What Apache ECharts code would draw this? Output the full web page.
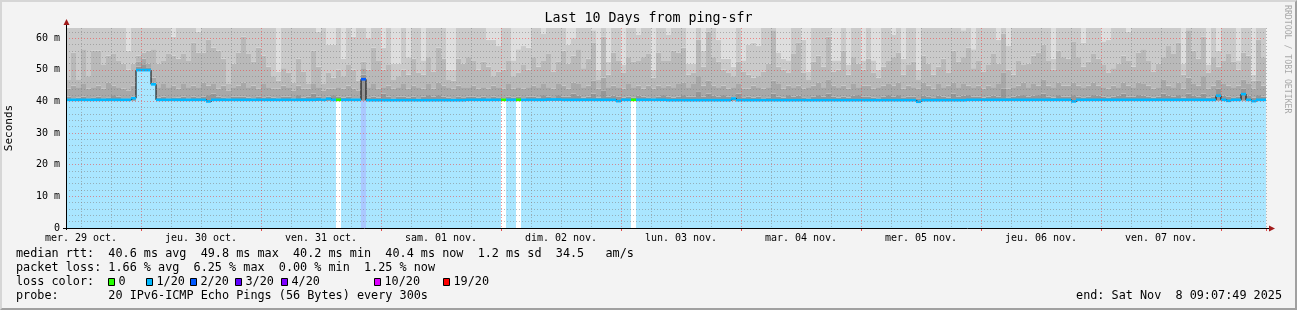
<!DOCTYPE html>
<html><head><meta charset="utf-8">
<script src="https://cdn.jsdelivr.net/npm/echarts@6/dist/echarts.min.js"></script>
<style>
html,body{margin:0;padding:0;background:#f3f3f3;}
#c{width:1297px;height:310px;position:absolute;left:0;top:0;}
#frame{position:absolute;left:0;top:0;width:1297px;height:310px;box-sizing:border-box;border-top:2px solid #d6d6d6;border-left:2px solid #d6d6d6;border-right:2px solid #a0a0a0;border-bottom:2px solid #a0a0a0;pointer-events:none;}
</style>
</head><body><div id="c"></div><div id="frame"></div>
<script>
// ---------------- DATA (one column = 30 min) ----------------
const dayLabels = ['mer. 29 oct.','jeu. 30 oct.','ven. 31 oct.','sam. 01 nov.','dim. 02 nov.','lun. 03 nov.','mar. 04 nov.','mer. 05 nov.','jeu. 06 nov.','ven. 07 nov.'];
const yTickLabels = [0,10,20,30,40,50,60];
const lossKeys   = ['0','1/20','2/20','3/20','4/20','10/20','19/20'];
const lossColors = ['#26ff00','#00b8ff','#0059ff','#5e00ff','#7e00ff','#dd00ff','#ff0000'];
const lossFills  = ['#ffffff','#aae6ff','#abc8ff','#c9aaff','#d4aaff','#f2aaff','#ffaaaa'];

// median rtt (ms)
const median = [
40.5,40.5,40.5,40.5,40.5,40.5,40.5,40.5,40.5,40.5,40.5,40.5,40.5,41.0,49.9,49.9,49.9,45.4,40.5,40.5,
40.5,40.5,40.5,40.5,40.5,40.5,40.5,40.5,40.0,40.5,40.5,40.5,40.5,40.5,40.5,40.5,40.5,40.5,40.5,40.5,
40.5,40.5,40.5,40.5,40.5,40.5,40.5,40.5,40.5,40.5,40.6,40.5,40.8,40.5,40.5,40.5,40.5,40.5,40.5,47.0,
40.4,40.4,40.4,40.4,40.4,40.4,40.4,40.4,40.4,40.4,40.4,40.4,40.4,40.4,40.4,40.4,40.4,40.4,40.4,40.4,
40.5,40.5,40.5,40.5,40.5,40.5,40.5,40.5,40.5,40.5,40.5,40.5,40.5,40.5,40.5,40.5,40.6,40.6,40.6,40.5,
40.5,40.5,40.5,40.5,40.5,40.5,40.5,40.5,40.5,40.5,40.1,40.5,40.5,40.5,40.5,40.5,40.5,40.5,40.5,40.5,
40.4,40.4,40.4,40.4,40.4,40.4,40.4,40.4,40.4,40.4,40.4,40.4,40.4,40.9,40.4,40.4,40.4,40.4,40.4,40.4,
40.4,40.4,40.4,40.4,40.4,40.4,40.4,40.4,40.4,40.4,40.4,40.4,40.4,40.4,40.4,40.4,40.4,40.4,40.4,40.4,
40.4,40.4,40.4,40.4,40.4,40.4,40.4,40.4,40.4,40.4,39.9,40.4,40.4,40.4,40.4,40.4,40.4,40.4,40.4,40.4,
40.5,40.5,40.5,40.5,40.5,40.5,40.5,40.5,40.5,40.5,40.5,40.5,40.5,40.5,40.5,40.5,40.5,40.5,40.5,40.5,
40.5,40.0,40.5,40.5,40.5,40.5,40.5,40.5,40.5,40.5,40.5,40.5,40.5,40.5,40.5,40.5,40.5,40.5,40.5,40.5,
40.5,40.5,40.5,40.5,40.5,40.5,40.5,40.5,40.5,40.5,41.8,40.5,40.2,40.5,40.5,42.3,40.5,40.1,40.5,40.5];

// loss level index (into lossKeys) per column
const loss = [
1,1,1,1,1,1,1,1,1,1,1,1,1,1,1,1,1,1,1,1,
1,1,1,1,1,1,1,1,1,1,1,1,1,1,1,1,1,1,1,1,
1,1,1,1,1,1,1,1,1,1,1,1,1,1,0,1,1,1,1,2,
1,1,1,1,1,1,1,1,1,1,1,1,1,1,1,1,1,1,1,1,
1,1,1,1,1,1,1,0,1,1,0,1,1,1,1,1,1,1,1,1,
1,1,1,1,1,1,1,1,1,1,1,1,1,0,1,1,1,1,1,1,
1,1,1,1,1,1,1,1,1,1,1,1,1,1,1,1,1,1,1,1,
1,1,1,1,1,1,1,1,1,1,1,1,1,1,1,1,1,1,1,1,
1,1,1,1,1,1,1,1,1,1,1,1,1,1,1,1,1,1,1,1,
1,1,1,1,1,1,1,1,1,1,1,1,1,1,1,1,1,1,1,1,
1,1,1,1,1,1,1,1,1,1,1,1,1,1,1,1,1,1,1,1,
1,1,1,1,1,1,1,1,1,1,1,1,1,1,1,1,1,1,1,1];

// smoke: lowest ping, then tops of the darker-to-lighter smoke bands (ms)
const minPing = [
40.2,40.2,40.2,40.2,40.2,40.2,40.2,40.2,40.2,40.2,40.2,40.2,40.2,40.2,49.7,49.7,49.7,45.2,40.2,40.2,
40.2,40.2,40.2,40.2,40.2,40.2,40.2,40.2,40.2,40.2,40.2,40.2,40.2,40.2,40.2,40.2,40.2,40.2,40.2,40.2,
40.2,40.2,40.2,40.2,40.2,40.2,40.2,40.2,40.2,40.2,40.2,40.2,40.2,40.2,40.2,40.2,40.2,40.2,40.2,40.2,
40.2,40.2,40.2,40.2,40.2,40.2,40.2,40.2,40.2,40.2,40.2,40.2,40.2,40.2,40.2,40.2,40.2,40.2,40.2,40.2,
40.2,40.2,40.2,40.2,40.2,40.2,40.2,40.2,40.2,40.2,40.2,40.2,40.2,40.2,40.2,40.2,40.2,40.2,40.2,40.2,
40.2,40.2,40.2,40.2,40.2,40.2,40.2,40.2,40.2,40.2,40.2,40.2,40.2,40.2,40.2,40.2,40.2,40.2,40.2,40.2,
40.2,40.2,40.2,40.2,40.2,40.2,40.2,40.2,40.2,40.2,40.2,40.2,40.2,40.2,40.2,40.2,40.2,40.2,40.2,40.2,
40.2,40.2,40.2,40.2,40.2,40.2,40.2,40.2,40.2,40.2,40.2,40.2,40.2,40.2,40.2,40.2,40.2,40.2,40.2,40.2,
40.2,40.2,40.2,40.2,40.2,40.2,40.2,40.2,40.2,40.2,40.2,40.2,40.2,40.2,40.2,40.2,40.2,40.2,40.2,40.2,
40.2,40.2,40.2,40.2,40.2,40.2,40.2,40.2,40.2,40.2,40.2,40.2,40.2,40.2,40.2,40.2,40.2,40.2,40.2,40.2,
40.2,40.2,40.2,40.2,40.2,40.2,40.2,40.2,40.2,40.2,40.2,40.2,40.2,40.2,40.2,40.2,40.2,40.2,40.2,40.2,
40.2,40.2,40.2,40.2,40.2,40.2,40.2,40.2,40.2,40.2,40.2,40.2,40.2,40.2,40.2,40.2,40.2,40.2,40.2,40.2];

const smokeDark = [
41.5,41.0,41.2,41.5,41.0,41.3,41.5,41.0,41.3,42.0,41.5,41.0,41.0,41.5,51.0,51.5,50.8,46.0,41.2,41.5,
41.0,41.3,41.2,41.5,41.0,41.5,41.3,41.5,42.0,42.5,41.5,41.3,41.0,41.5,41.5,41.5,41.2,41.0,41.5,41.3,
41.5,41.2,41.0,41.5,41.5,41.0,42.0,41.2,41.5,42.5,41.5,41.0,41.5,42.0,41.5,41.2,41.5,41.0,41.0,48.5,
41.3,41.5,41.2,42.5,41.5,41.0,41.5,41.5,41.2,41.5,41.0,41.5,42.0,41.5,42.0,41.5,41.2,41.0,41.5,41.3,
41.5,41.5,41.2,41.5,41.0,41.5,41.3,41.0,41.5,41.2,41.5,41.0,41.5,41.5,41.2,42.0,41.5,41.0,42.0,41.5,
41.5,42.5,41.8,41.2,41.5,42.5,41.2,43.5,41.5,41.8,41.5,41.2,41.5,41.2,41.8,41.5,41.3,41.0,41.5,42.0,
41.5,41.2,41.5,42.0,41.5,41.5,43.0,41.5,42.5,41.8,41.5,42.0,41.5,41.2,42.5,41.3,41.5,41.2,41.5,41.0,
41.3,42.5,41.5,41.2,42.0,41.5,41.8,41.3,41.0,41.5,42.0,41.5,42.5,41.5,41.2,41.5,41.2,41.8,42.0,41.5,
41.5,41.2,41.0,41.5,42.0,41.5,42.0,41.3,41.5,41.5,41.0,41.8,41.5,41.3,41.8,41.5,41.2,42.5,41.5,41.8,
42.0,41.5,41.5,41.2,41.5,41.8,41.5,44.0,41.3,41.5,41.8,42.0,41.5,41.8,42.0,42.5,41.5,41.2,42.0,41.5,
41.5,42.0,41.5,41.3,41.5,42.0,41.8,41.5,41.2,41.5,41.8,42.5,41.5,41.5,42.0,41.8,41.5,41.2,41.5,42.5,
41.8,41.5,42.0,41.2,42.5,41.8,41.5,42.5,41.2,41.5,44.0,41.8,41.5,41.3,41.5,44.0,41.8,41.2,42.0,41.5];

const smokeMid = [
44.0,45.0,44.5,45.5,44.0,44.5,45.0,44.0,46.0,45.0,44.5,44.0,43.5,45.0,52.5,53.5,52.0,47.5,44.5,45.5,
44.5,45.0,44.0,45.5,44.5,45.0,44.5,46.0,45.0,45.5,44.0,45.0,43.5,44.5,45.0,46.0,44.5,45.0,44.0,45.5,
44.5,44.0,44.0,45.0,44.5,43.5,45.0,44.0,44.0,45.5,44.5,43.5,44.0,44.0,44.5,44.0,45.0,44.0,43.5,50.5,
44.5,45.5,44.0,44.5,45.0,44.0,44.5,45.5,44.0,45.0,44.5,44.0,45.5,44.0,46.0,45.0,44.5,44.0,45.0,44.5,
44.5,45.0,44.0,44.5,44.0,45.0,44.5,44.0,45.5,44.0,44.5,44.0,44.5,45.0,44.5,45.5,44.5,44.0,45.5,45.0,
44.0,46.0,45.5,44.5,45.0,46.5,44.0,47.5,44.5,45.0,44.5,44.0,45.5,44.5,45.0,44.0,45.0,44.0,45.0,44.5,
45.0,44.5,45.5,46.0,44.5,45.5,48.0,45.0,46.5,45.0,44.5,45.0,44.0,44.5,45.5,44.0,44.0,45.0,44.5,44.0,
44.5,46.5,45.5,44.0,45.0,44.5,45.0,44.0,44.5,45.0,46.0,44.5,47.0,45.0,44.5,45.0,44.0,45.5,44.5,45.0,
45.0,44.0,44.5,45.0,45.5,45.0,46.0,44.0,45.0,44.5,44.0,46.0,45.0,44.0,45.5,44.5,45.0,46.0,44.5,45.5,
45.0,44.5,45.0,44.0,45.0,44.5,45.5,49.0,44.0,44.5,45.0,46.0,44.5,45.5,45.0,47.0,45.0,44.5,46.0,45.0,
45.0,46.0,45.0,44.5,45.0,46.0,45.0,44.5,44.0,45.0,44.5,46.0,45.0,44.5,46.0,45.5,45.0,44.0,44.5,47.0,
45.0,44.5,46.0,44.0,47.5,45.5,45.0,48.0,44.0,45.0,47.0,45.5,45.0,44.5,45.0,47.0,45.5,44.0,46.5,45.0];

const smokeLight = [
47.0,55.5,47.0,56.5,48.0,56.0,56.0,51.5,54.5,55.0,53.0,52.0,50.0,52.0,54.5,55.5,56.0,56.5,52.0,53.0,
55.0,54.5,53.5,55.0,53.0,58.5,55.5,55.5,59.5,57.0,56.0,53.5,45.5,52.0,55.5,60.5,55.0,52.5,57.0,54.5,
51.0,48.0,46.5,50.5,49.0,46.0,53.5,49.5,45.5,56.0,51.0,45.5,49.0,47.5,50.0,48.0,51.5,50.0,46.5,52.5,
50.0,57.0,53.0,50.0,51.5,47.0,48.0,50.0,48.5,53.5,49.0,48.5,54.0,49.5,57.0,53.5,47.0,46.5,53.5,52.0,
54.0,53.0,50.0,52.5,51.0,48.0,49.5,50.0,53.0,48.0,49.0,51.5,50.0,54.0,51.0,53.0,55.0,49.5,52.5,56.0,
52.0,54.5,56.5,50.5,53.5,58.5,47.0,60.5,48.5,55.5,53.0,49.0,54.0,52.5,53.0,54.0,55.0,47.5,55.5,53.0,
53.0,56.0,55.5,57.0,48.5,49.0,59.5,51.0,62.0,54.0,52.5,50.0,49.0,48.0,52.5,49.5,48.5,47.5,48.0,49.5,
52.0,62.5,51.0,50.0,49.0,55.0,58.5,49.0,47.0,52.5,54.5,51.0,60.5,49.5,50.0,56.0,48.5,54.0,52.0,50.0,
53.5,49.0,47.5,51.0,53.0,54.0,55.5,48.5,51.5,52.5,47.0,54.5,52.0,48.5,51.0,53.5,49.0,56.0,52.5,54.0,
57.0,50.5,53.0,49.5,51.5,55.0,52.0,61.5,50.0,48.5,53.0,51.5,52.0,54.5,55.5,58.0,53.0,50.0,56.0,54.0,
53.5,59.0,54.0,51.0,52.5,55.0,53.5,51.5,49.0,50.5,52.0,54.5,53.0,51.0,55.5,56.5,53.0,49.5,52.0,54.0,
57.5,55.0,58.5,48.5,62.5,56.0,53.5,60.5,49.0,54.0,51.0,53.0,55.0,52.5,50.0,55.5,54.5,46.5,59.5,54.0];

// top of the grey (#cacaca) band; above it only the palest smoke remains
const smokePale = [
64,64,64,64,64,64,64,64,64,64,64,64,56.0,64,64,64,64,64,64,64,
64,60.5,64,64,64,64,62.0,64,64,64,64,64,64,64,64,64,64,64,64,64,
64,64,49.5,64,64,64,64,64,64,64,62.0,64,58.0,58.0,64,53.5,64,60.5,64,64,
60.0,64,64,57.0,64,52.0,52.0,64,54.0,64,64,53.0,64,64,64,64,50.0,50.0,64,64,
64,64,64,64,59.5,59.5,57.5,64,64,53.0,56.5,57.5,57.0,64,64,61.5,64,64,64,64,
58.0,60.0,64,64,64,62.5,50.0,64,52.5,64,64,51.5,64,64,61.0,64,64,50.0,64,64,
61.0,64,64,64,52.0,52.0,64,56.0,64,64,59.5,53.5,53.5,51.0,64,53.0,58.0,58.5,57.5,64,
64,64,55.5,53.5,53.0,64,64,59.5,49.5,64,64,64,64,53.0,53.0,64,51.5,64,64,53.0,
64,53.0,50.0,64,64,61.0,64,53.5,64,64,50.0,64,64,64,64,64,64,64,64,62.5,
64,56.5,64,64,64,64,59.5,64,57.5,64,64,64,64,64,64,64,64,53.5,64,64,
64,64,64,58.5,64,64,64,59.0,59.5,64,64,64,62.0,64,64,64,64,64,64,64,
64,64,64,52.0,64,64,64,64,51.5,64,56.0,64,64,64,53.0,64,64,48.5,64,64];

const smokeMax = 64; // highest pings run off the top of the graph

const statLines = [
  'median rtt:  40.6 ms avg  49.8 ms max  40.2 ms min  40.4 ms now  1.2 ms sd  34.5   am/s',
  'packet loss: 1.66 % avg  6.25 % max  0.00 % min  1.25 % now',
  'loss color:',
  'probe:       20 IPv6-ICMP Echo Pings (56 Bytes) every 300s'
];
const endText = 'end: Sat Nov  8 09:07:49 2025';
const titleText = 'Last 10 Days from ping-sfr';

// ---------------- CHART ----------------
const FONT = '"DejaVu Sans Mono", monospace';
const L = 66, T = 28, W = 1200, H = 200;
const cols = median.map((_, i) => i);
const chart = echarts.init(document.getElementById('c'), null, {renderer: 'canvas', width: 1297, height: 310});

function bar(name, stack, data, color, z) {
  return {
    name, type: 'bar', stack, data, z,
    barWidth: '100%', barGap: '-100%', barCategoryGap: '0%',
    itemStyle: color ? {color} : undefined,
    silent: true, animation: false
  };
}

const fillData = median.map((v, i) => ({value: v, itemStyle: {color: lossFills[loss[i]]}}));
const medBase = median.map(v => v - 0.42);
const medData = median.map((v, i) => ({value: 0.84, itemStyle: {color: lossColors[loss[i]]}}));

const series = [
  bar('fill', 'fill', fillData, null, 1),
  bar('smokeBase', 'smoke', minPing, 'rgba(0,0,0,0)', 2),
  bar('s5', 'smoke', smokeDark.map((v, i) => v - minPing[i]), '#969696', 2),
  bar('s4', 'smoke', smokeMid.map((v, i) => v - smokeDark[i]), '#a8a8a8', 2),
  bar('s3', 'smoke', smokeLight.map((v, i) => v - smokeMid[i]), '#b9b9b9', 2),
  bar('s2', 'smoke', smokePale.map((v, i) => v - smokeLight[i]), '#cacaca', 2),
  bar('s1', 'smoke', smokePale.map(v => smokeMax - v), '#dedede', 2),
  {type: 'line', data: median, step: 'middle', symbol: 'none', z: 3, silent: true, animation: false,
   lineStyle: {color: '#000', width: 1}},
  bar('medBase', 'med', medBase, 'rgba(0,0,0,0)', 4),
  bar('median', 'med', medData, null, 4)
];

const gridGray = 'rgba(130,130,130,0.55)';
const gridRed = 'rgba(240,60,60,0.55)';

const graphics = [];
// axis lines and arrows
graphics.push({type: 'line', z: 100, shape: {x1: L + 0.5, y1: T + H + 2, x2: L + 0.5, y2: T - 4}, style: {stroke: '#000', lineWidth: 1}});
graphics.push({type: 'line', z: 100, shape: {x1: L - 3, y1: T + H + 0.5, x2: L + W + 3, y2: T + H + 0.5}, style: {stroke: '#000', lineWidth: 1}});
graphics.push({type: 'polygon', z: 101, shape: {points: [[L - 2.5, T - 3], [L + 3.5, T - 3], [L + 0.5, T - 9]]}, style: {fill: '#a11b1b'}});
graphics.push({type: 'polygon', z: 101, shape: {points: [[L + W + 3, T + H - 2.5], [L + W + 3, T + H + 3.5], [L + W + 9, T + H + 0.5]]}, style: {fill: '#a11b1b'}});
// legend lines
const rowY = [254, 268, 282, 296];
const TXT = '11.8px ' + FONT;
statLines.forEach((s, i) => {
  graphics.push({type: 'text', x: 16, y: rowY[i], style: {text: s, font: TXT, fill: '#000', textVerticalAlign: 'middle', textAlign: 'left'}});
});
const boxX = [108, 146, 190, 235, 281, 374, 443];
lossKeys.forEach((k, i) => {
  graphics.push({type: 'rect', shape: {x: boxX[i] + 0.5, y: rowY[2] - 3.5, width: 6, height: 7}, style: {fill: lossColors[i], stroke: '#000', lineWidth: 1}});
  graphics.push({type: 'text', x: boxX[i] + 10.5, y: rowY[2], style: {text: k, font: TXT, fill: '#000', textVerticalAlign: 'middle', textAlign: 'left'}});
});
graphics.push({type: 'text', x: 1282, y: rowY[3], style: {text: endText, font: TXT, fill: '#000', textVerticalAlign: 'middle', textAlign: 'right'}});
graphics.push({type: 'text', x: 1287, y: 5, rotation: -Math.PI / 2, style: {text: 'RRDTOOL / TOBI OETIKER', font: '8.2px ' + FONT, fill: '#a8a8a8', textVerticalAlign: 'middle', textAlign: 'left'}});

chart.setOption({
  backgroundColor: '#f3f3f3',
  animation: false,
  title: {text: titleText, left: 'center', top: 12, padding: 0,
    textStyle: {fontFamily: FONT, fontSize: 13.3, fontWeight: 'normal', color: '#000'}},
  grid: {left: L, top: T, width: W, height: H, show: true, backgroundColor: '#ffffff', borderWidth: 0,
    containLabel: false, outerBoundsMode: 'none'},
  xAxis: [{
    type: 'category', data: cols, boundaryGap: true, z: 6,
    axisLine: {show: false},
    axisTick: {show: true, length: 3, interval: (i) => (i - 15) % 24 === 0, lineStyle: {color: '#e05050'}},
    axisLabel: {interval: (i) => (i - 3) % 24 === 0, margin: 5, color: '#000', fontFamily: FONT, fontSize: 10,
      padding: [0, 5, 0, 0],
      formatter: (v, i) => dayLabels[Math.round((i - 3) / 24)] || ''},
    splitLine: {show: true, interval: (i) => i > 0 && (i - 3) % 6 === 0,
      lineStyle: {color: [gridGray, gridGray, gridRed, gridGray], type: [1, 2], width: 1}}
  }],
  yAxis: [{
    type: 'value', min: 0, max: 63.2, interval: 2, z: 6,
    name: 'Seconds', nameLocation: 'middle', nameGap: 51, nameRotate: 90,
    nameTextStyle: {fontFamily: FONT, fontSize: 11, color: '#000'},
    axisLine: {show: false}, axisTick: {show: false},
    axisLabel: {margin: 6, color: '#000', fontFamily: FONT, fontSize: 10, showMaxLabel: false,
      formatter: (v) => (yTickLabels.indexOf(v) >= 0 ? (v === 0 ? '0' : v + ' m') : '')},
    splitLine: {show: true, showMaxLine: false,
      lineStyle: {color: [gridRed, gridGray, gridGray, gridGray, gridGray], type: [1, 2], width: 1}}
  }],
  series,
  graphic: graphics
});
</script>
</body></html>
